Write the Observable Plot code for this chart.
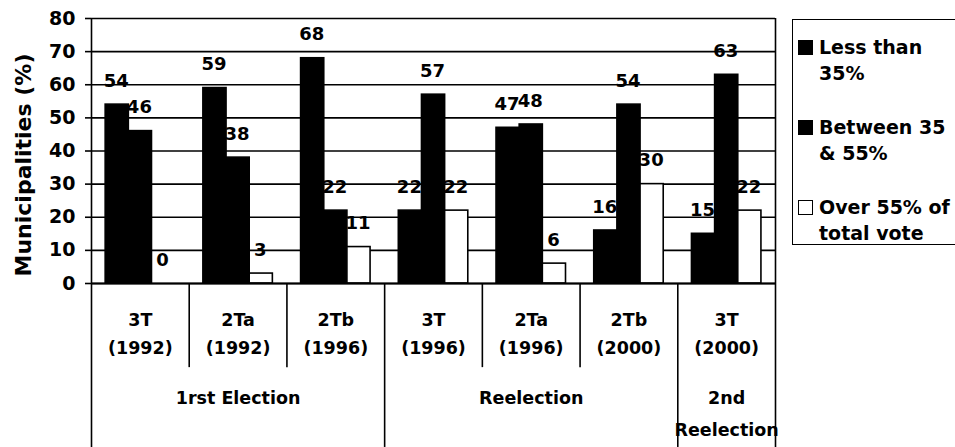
<!DOCTYPE html>
<html>
<head>
<meta charset="utf-8">
<script src="https://cdn.jsdelivr.net/npm/d3@7"></script>
<script src="https://cdn.jsdelivr.net/npm/@observablehq/plot@0.6"></script>
<style>
  html, body { margin: 0; padding: 0; background: #fff; }
  #wrap { position: relative; width: 955px; height: 447px; overflow: hidden; font-family: "DejaVu Sans", sans-serif; font-weight: bold; color: #000; }
  #ytitle { position: absolute; left: 23px; top: 165px; transform: translate(-50%, -50%) rotate(-90deg); white-space: nowrap; font-size: 22px; }
  #legend { position: absolute; left: 792px; top: 19px; width: 175px; height: 226px; border: 1.5px solid #000; box-sizing: border-box; }
  .item { position: absolute; left: 5px; font-size: 19px; line-height: 26px; white-space: nowrap; }
  .sw { position: absolute; left: 0; top: 6px; width: 15px; height: 15px; box-sizing: border-box; border: 1.5px solid #000; }
  .lbl { position: absolute; left: 21px; top: 0; }
</style>
</head>
<body>
<div id="wrap">
  <div id="chart"></div>
  <div id="ytitle">Municipalities (%)</div>
  <div id="legend"></div>
</div>
<script>
// ---- data ----
const catCodes = ["3T", "2Ta", "2Tb", "3T", "2Ta", "2Tb", "3T"];
const catYears = ["(1992)", "(1992)", "(1996)", "(1996)", "(1996)", "(2000)", "(2000)"];
const groupLabels = ["1rst Election", "Reelection", "2nd\nReelection"];
const groupSpans = [3, 3, 1];
const seriesNames = ["Less than\n35%", "Between 35\n& 55%", "Over 55% of\ntotal vote"];
const seriesFill = ["#000", "#000", "#fff"];
const lessThan35 = [54, 59, 68, 22, 47, 16, 15];
const between35and55 = [46, 38, 22, 57, 48, 54, 63];
const over55 = [0, 3, 11, 22, 6, 30, 22];
const yTicks = [0, 10, 20, 30, 40, 50, 60, 70, 80];

// ---- build table ----
const seriesValues = [lessThan35, between35and55, over55];
const rows = [];
seriesValues.forEach((vals, s) => vals.forEach((v, i) => rows.push({cat: i, s, value: v})));

const barOffset = 0.145, barWidth = 0.237;
const x1 = d => d.cat + barOffset + d.s * barWidth;
const x2 = d => x1(d) + barWidth;
const xc = d => x1(d) + barWidth / 2;

// table rows (in y data units, below the zero line)
const yTableBottom = -49.5, yInnerEnd = -25.4, yCode = -11.1, yYear = -19.5, yGroup = -34.6;

const cats = catCodes.map((c, i) => ({i, code: c, year: catYears[i]}));
let acc = 0;
const groups = groupLabels.map((g, k) => { const g0 = acc; acc += groupSpans[k]; return {label: g, start: g0, end: acc}; });
const outerBounds = [0, ...groups.map(g => g.end)];
const innerBounds = d3.range(0, catCodes.length + 1).filter(b => !outerBounds.includes(b));

const chart = Plot.plot({
  width: 955,
  height: 447,
  marginLeft: 91,
  marginRight: 180,
  marginTop: 18,
  marginBottom: 164,
  style: {fontFamily: "DejaVu Sans", fontWeight: "bold", fontSize: "19px", background: "#fff", overflow: "visible"},
  x: {domain: [0, catCodes.length], axis: null},
  y: {domain: [0, 80], axis: null},
  marks: [
    Plot.ruleY(yTicks, {stroke: "#000", strokeWidth: 1.6}),
    Plot.axisY({ticks: yTicks, tickSize: 6, tickPadding: 10, label: null, stroke: "#000", strokeWidth: 1.6, fill: "#000"}),
    Plot.rectY(rows, {x1, x2, y1: 0, y2: "value", fill: d => seriesFill[d.s], stroke: "#000", strokeWidth: 1.6}),
    Plot.text(rows, {x: xc, y: "value", text: d => String(d.value), lineAnchor: "bottom", dy: -18, dx: -1, fontSize: 18, fill: "#000"}),
    // outer frame / group dividers
    Plot.ruleX([0, catCodes.length], {y1: 80, y2: yTableBottom, stroke: "#000", strokeWidth: 1.6}),
    Plot.ruleX(outerBounds.filter(b => b > 0 && b < catCodes.length), {y1: 0, y2: yTableBottom, stroke: "#000", strokeWidth: 1.6}),
    Plot.ruleX(innerBounds, {y1: 0, y2: yInnerEnd, stroke: "#000", strokeWidth: 1.6}),
    // category labels
    Plot.text(cats, {x: d => d.i + 0.5, y: yCode, text: "code", fontSize: 17.5, lineAnchor: "middle", fill: "#000"}),
    Plot.text(cats, {x: d => d.i + 0.5, y: yYear, text: "year", fontSize: 17.5, lineAnchor: "middle", fill: "#000"}),
    // group labels
    Plot.text(groups, {x: d => (d.start + d.end) / 2, y: yGroup, text: "label", fontSize: 17.5, lineAnchor: "top", lineHeight: 1.85, dy: -17, fill: "#000"}),
    Plot.ruleY([0], {stroke: "#000", strokeWidth: 2})
  ]
});
document.getElementById("chart").appendChild(chart);

// ---- legend ----
const legend = document.getElementById("legend");
seriesNames.forEach((name, s) => {
  const item = document.createElement("div");
  item.className = "item";
  item.style.top = (14 + s * 80) + "px";
  const sw = document.createElement("div");
  sw.className = "sw";
  sw.style.background = seriesFill[s];
  const lbl = document.createElement("div");
  lbl.className = "lbl";
  lbl.innerHTML = name.split("\n").join("<br>");
  item.appendChild(sw);
  item.appendChild(lbl);
  legend.appendChild(item);
});
</script>
</body>
</html>
